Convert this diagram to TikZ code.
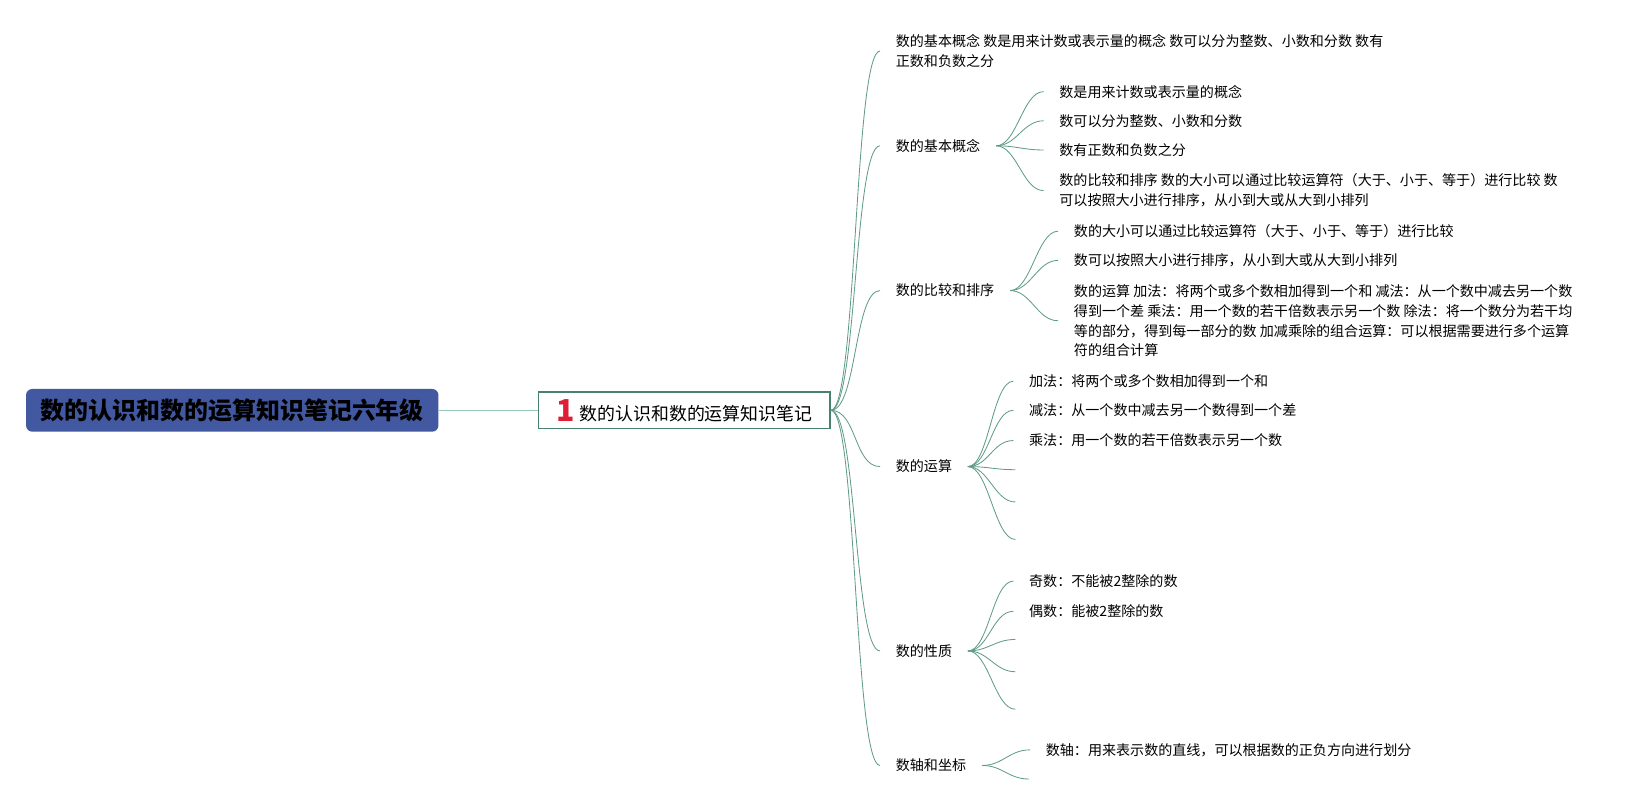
\documentclass[tikz,border=0pt]{standalone}
\usepackage{fontspec}
\setmainfont{Noto Sans CJK SC}
\usetikzlibrary{positioning}
\definecolor{rootblue}{RGB}{66,88,160}
\definecolor{topicgreen}{RGB}{70,130,110}
\definecolor{branchgreen}{RGB}{95,155,135}
\definecolor{stemgreen}{RGB}{150,200,180}
\definecolor{numred}{RGB}{222,30,55}

\begin{document}
\begin{tikzpicture}[x=1pt, y=-1pt,
    rootbox/.style={fill=rootblue, rounded corners=6pt, minimum width=396pt, minimum height=41pt, font=\fontsize{23}{26}\selectfont\bfseries},
    topicbox/.style={draw=topicgreen, line width=1.6pt, fill=white, minimum width=280pt, minimum height=35pt, inner ysep=0pt, font=\fontsize{17.2}{20}\selectfont},
    item/.style={anchor=west, align=left, inner xsep=15pt, inner ysep=2pt, font=\fontsize{13.5}{19}\selectfont},
    branch/.style={draw=branchgreen, line width=0.8pt}]
  \useasboundingbox (0,0) rectangle (1568,773);

  \node[rootbox] (root) at (223,394) {数的认识和数的运算知识笔记六年级};
  \node[topicbox] (topic) at (657,394) {{\color{numred}\fontsize{29}{29}\selectfont\bfseries\raisebox{-1pt}{1}}\hspace{5pt}数的认识和数的运算知识笔记};
  \draw[stemgreen, line width=1pt] (root) -- (topic);

  \node[item] (summary) at (845,49) {数的基本概念 数是用来计数或表示量的概念 数可以分为整数、小数和分数 数有\\正数和负数之分};
  \node[item] (concept) at (845,140) {数的基本概念};
  \node[item] (compare) at (845,279) {数的比较和排序};
  \node[item] (calc) at (845,448) {数的运算};
  \node[item] (prop) at (845,625) {数的性质};
  \node[item] (axis) at (845,735) {数轴和坐标};

  \node[item] (c1) at (1002,88) {数是用来计数或表示量的概念};
  \node[item] (c2) at (1002,116) {数可以分为整数、小数和分数};
  \node[item] (c3) at (1002,144) {数有正数和负数之分};
  \node[item] (c4) at (1002,183) {数的比较和排序 数的大小可以通过比较运算符（大于、小于、等于）进行比较 数\\可以按照大小进行排序，从小到大或从大到小排列};

  \node[item] (o1) at (1016,222) {数的大小可以通过比较运算符（大于、小于、等于）进行比较};
  \node[item] (o2) at (1016,250) {数可以按照大小进行排序，从小到大或从大到小排列};
  \node[item] (o3) at (1016,308) {数的运算 加法：将两个或多个数相加得到一个和 减法：从一个数中减去另一个数\\得到一个差 乘法：用一个数的若干倍数表示另一个数 除法：将一个数分为若干均\\等的部分，得到每一部分的数 加减乘除的组合运算：可以根据需要进行多个运算\\符的组合计算};

  \node[item] (a1) at (973,366) {加法：将两个或多个数相加得到一个和};
  \node[item] (a2) at (973,394) {减法：从一个数中减去另一个数得到一个差};
  \node[item] (a3) at (973,423) {乘法：用一个数的若干倍数表示另一个数};
  \coordinate (a4) at (975,451);
  \coordinate (a5) at (975,482);
  \coordinate (a6) at (975,518);

  \node[item] (p1) at (973,558) {奇数：不能被2整除的数};
  \node[item] (p2) at (973,587) {偶数：能被2整除的数};
  \coordinate (p3) at (975,614);
  \coordinate (p4) at (975,645);
  \coordinate (p5) at (975,681);

  \node[item] (x1) at (989,720) {数轴：用来表示数的直线，可以根据数的正负方向进行划分};
  \coordinate (x2) at (988,748);

  \foreach \n in {summary,concept,compare,calc,prop,axis}
    \draw[branch] (topic.east) .. controls +(25,0) and +(-25,0) .. (\n.west);
  \foreach \n in {c1,c2,c3,c4}
    \draw[branch] (concept.east) .. controls +(20,0) and +(-20,0) .. (\n.west);
  \foreach \n in {o1,o2,o3}
    \draw[branch] (compare.east) .. controls +(20,0) and +(-20,0) .. (\n.west);
  \foreach \n in {a1,a2,a3}
    \draw[branch] (calc.east) .. controls +(20,0) and +(-20,0) .. (\n.west);
  \foreach \n in {a4,a5,a6}
    \draw[branch] (calc.east) .. controls +(20,0) and +(-20,0) .. (\n);
  \foreach \n in {p1,p2}
    \draw[branch] (prop.east) .. controls +(20,0) and +(-20,0) .. (\n.west);
  \foreach \n in {p3,p4,p5}
    \draw[branch] (prop.east) .. controls +(20,0) and +(-20,0) .. (\n);
  \draw[branch] (axis.east) .. controls +(20,0) and +(-20,0) .. (x1.west);
  \draw[branch] (axis.east) .. controls +(20,0) and +(-20,0) .. (x2);
\end{tikzpicture}
\end{document}
